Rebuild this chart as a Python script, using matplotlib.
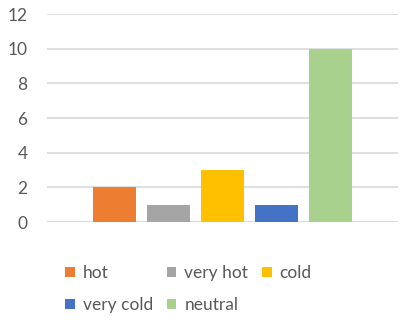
import matplotlib.pyplot as plt
import numpy as np

categories = ['hot', 'very hot', 'cold', 'very cold', 'neutral']
values = [2, 1, 3, 1, 10]
colors = ['#ED7D31', '#A5A5A5', '#FFC000', '#4472C4', '#A9D18E']
y_ticks = [0, 2, 4, 6, 8, 10, 12]

plt.rcParams['font.family'] = ['Lato', 'DejaVu Sans']
text_color = '#595959'

fig = plt.figure(figsize=(4.09, 3.26), dpi=100)
ax = fig.add_axes([0.115, 0.319, 0.858, 0.638])

x = np.arange(len(categories))
bars = ax.bar(x, values, width=0.8, color=colors, zorder=3)

ax.set_xlim(-1.25, len(categories) + 0.25)
ax.set_ylim(0, 12)
ax.set_yticks(y_ticks)
ax.set_xticks([])
ax.tick_params(axis='y', length=0, labelsize=12.5, labelcolor=text_color, pad=14)
ax.grid(axis='y', color='#D9D9D9', linewidth=1.2, zorder=0)
for s in ax.spines.values():
    s.set_visible(False)
ax.axhline(0, color='#D9D9D9', linewidth=1.2, zorder=1)

# legend fills column-wise, so reorder to read row-wise
order = [0, 3, 1, 4, 2]
handles = [bars[i] for i in order]
labels = [categories[i] for i in order]
fig.legend(handles, labels, ncol=3, loc='upper left', bbox_to_anchor=(0.16, 0.186),
           frameon=False, fontsize=12.5, labelcolor=text_color,
           handlelength=0.55, handleheight=0.55, handletextpad=0.45,
           columnspacing=0.8, labelspacing=0.9, borderpad=0, borderaxespad=0)

fig.savefig('out.png', dpi=100)
